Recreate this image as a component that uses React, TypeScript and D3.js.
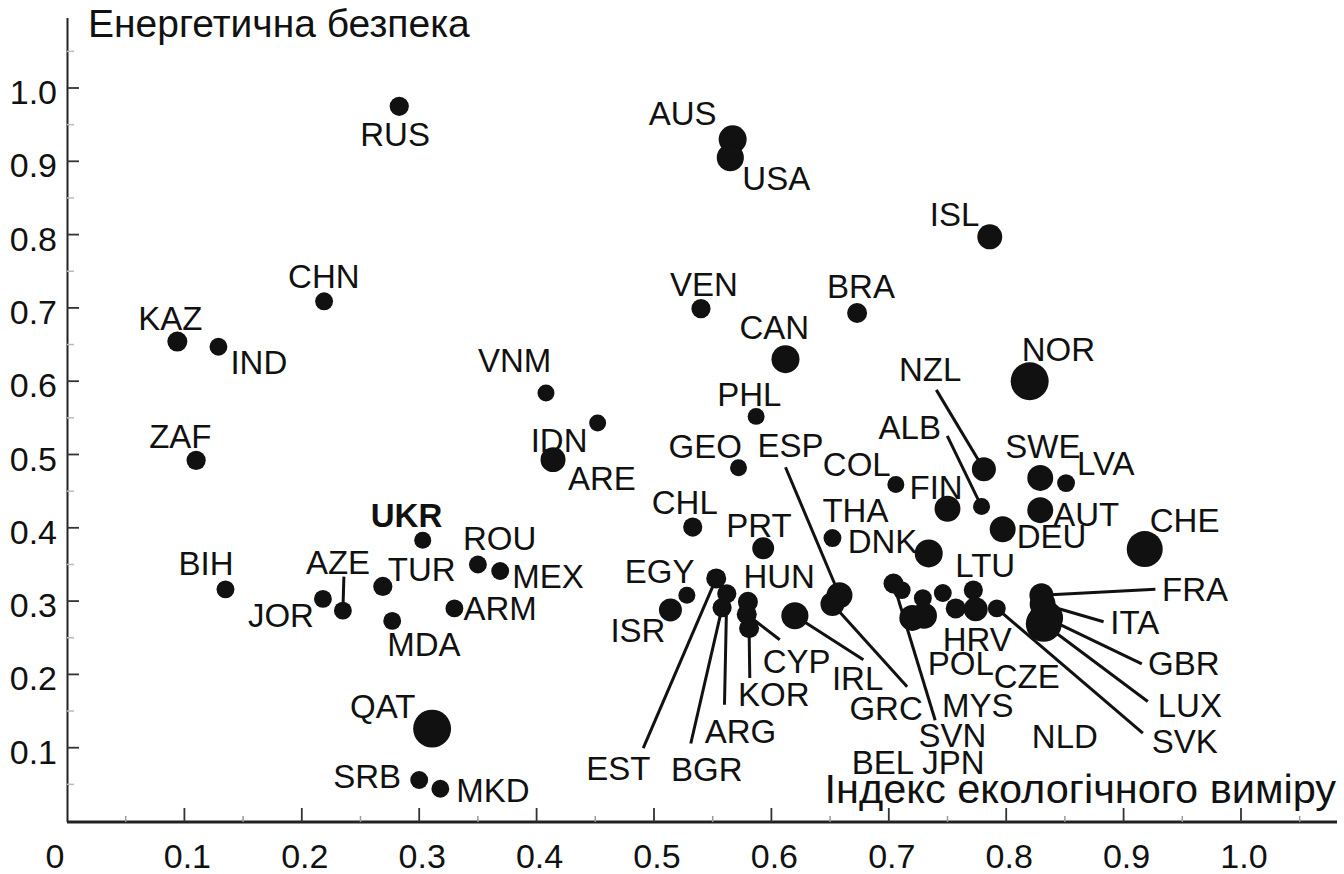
import React from "react";
import * as d3 from "d3";

// ---------- data ----------
const countries = [
  "RUS","AUS","USA","ISL","CHN","VEN","BRA","KAZ","IND","CAN",
  "NOR","VNM","PHL","IDN","ZAF","GEO","COL","NZL","ALB","FIN",
  "SWE","LVA","AUT","DEU","CHE","ARE","CHL","PRT","THA","DNK",
  "UKR","ROU","MEX","BIH","JOR","AZE","TUR","MDA","ARM","EGY",
  "ISR","EST","ARG","BGR","HUN","CYP","KOR","IRL","ESP","GRC",
  "SVN","BEL","JPN","MYS","POL","NLD","HRV","LTU","CZE","SVK",
  "FRA","ITA","GBR","LUX","QAT","SRB","MKD"
];
// Індекс екологічного виміру (x)
const ecoIndex = [
  0.283,0.567,0.565,0.786,0.219,0.540,0.673,0.094,0.129,0.612,
  0.820,0.408,0.587,0.452,0.110,0.572,0.706,0.781,0.779,0.750,
  0.829,0.851,0.829,0.797,0.918,0.414,0.533,0.593,0.652,0.734,
  0.303,0.350,0.369,0.135,0.218,0.235,0.269,0.277,0.330,0.528,
  0.514,0.553,0.562,0.558,0.580,0.579,0.581,0.620,0.658,0.652,
  0.704,0.711,0.720,0.730,0.729,0.746,0.757,0.772,0.774,0.792,
  0.830,0.831,0.834,0.832,0.311,0.300,0.318
];
// Енергетична безпека (y)
const energySecurity = [
  0.975,0.930,0.905,0.797,0.709,0.699,0.693,0.654,0.647,0.630,
  0.600,0.584,0.552,0.543,0.492,0.482,0.459,0.480,0.429,0.426,
  0.468,0.461,0.424,0.398,0.371,0.493,0.401,0.372,0.386,0.365,
  0.383,0.350,0.341,0.316,0.303,0.287,0.320,0.273,0.290,0.308,
  0.288,0.331,0.310,0.291,0.299,0.282,0.263,0.280,0.308,0.296,
  0.324,0.315,0.277,0.280,0.304,0.311,0.290,0.315,0.289,0.290,
  0.308,0.296,0.277,0.269,0.126,0.056,0.044
];
// bubble weight (arbitrary units)
const weight = [
  23,49,46,39,20,23,25,25,20,49,
  90,18,18,18,23,18,18,36,18,42,
  42,20,42,42,81,39,23,30,20,49,
  18,20,20,20,20,20,23,20,20,18,
  33,25,23,23,25,25,25,46,42,36,
  25,20,42,42,20,20,25,23,36,20,
  36,42,72,81,90,20,20
];

const xTicks = [0.1,0.2,0.3,0.4,0.5,0.6,0.7,0.8,0.9,1.0];
const xTickLabels = ["0.1","0.2","0.3","0.4","0.5","0.6","0.7","0.8","0.9","1.0"];
const yTicks = [0.1,0.2,0.3,0.4,0.5,0.6,0.7,0.8,0.9,1.0];
const yTickLabels = ["0.1","0.2","0.3","0.4","0.5","0.6","0.7","0.8","0.9","1.0"];
const minorTicks = [0.05,0.15,0.25,0.35,0.45,0.55,0.65,0.75,0.85,0.95,1.05];

const yTitle = "Енергетична безпека";
const xTitle = "Індекс екологічного виміру";

// ---------- label layout (pixel offsets from the bubble) ----------
type Lay = { dx: number; dy: number; lx?: number; ly?: number; bold?: boolean };
const labelLayout: Record<string, Lay> = {
  RUS: { dx: -39, dy: 40 },
  AUS: { dx: -84, dy: -14 },
  USA: { dx: 12, dy: 32 },
  ISL: { dx: -60, dy: -11 },
  CHN: { dx: -36, dy: -13 },
  VEN: { dx: -31, dy: -13 },
  BRA: { dx: -30, dy: -15 },
  KAZ: { dx: -39, dy: -12 },
  IND: { dx: 12, dy: 27 },
  CAN: { dx: -46, dy: -20 },
  NOR: { dx: -8, dy: -20 },
  VNM: { dx: -68, dy: -21 },
  PHL: { dx: -39, dy: -10 },
  IDN: { dx: -67, dy: 29 },
  ZAF: { dx: -47, dy: -12 },
  GEO: { dx: -70, dy: -10 },
  COL: { dx: -73, dy: -9 },
  NZL: { dx: -85, dy: -88, lx: -47.6, ly: -79.3 },
  ALB: { dx: -103, dy: -68, lx: -34.3, ly: -70.7 },
  FIN: { dx: -38, dy: -10 },
  SWE: { dx: -35, dy: -20 },
  LVA: { dx: 11, dy: -8 },
  AUT: { dx: 13, dy: 16 },
  DEU: { dx: 14, dy: 19 },
  CHE: { dx: 5, dy: -17 },
  ARE: { dx: 15, dy: 30 },
  CHL: { dx: -41, dy: -13 },
  PRT: { dx: -37, dy: -11 },
  THA: { dx: -10, dy: -16 },
  DNK: { dx: -81, dy: 0 },
  UKR: { dx: -52, dy: -13, bold: true },
  ROU: { dx: -15, dy: -14 },
  MEX: { dx: 12, dy: 17 },
  BIH: { dx: -47, dy: -14 },
  JOR: { dx: -75, dy: 28 },
  AZE: { dx: -37, dy: -37, lx: 1, ly: -34 },
  TUR: { dx: 5, dy: -5 },
  MDA: { dx: -5, dy: 35 },
  ARM: { dx: 9, dy: 12 },
  EGY: { dx: -62, dy: -12 },
  ISR: { dx: -60, dy: 32 },
  EST: { dx: -130, dy: 202, lx: -73, ly: 169.7 },
  ARG: { dx: -22, dy: 149, lx: -2.3, ly: 111 },
  BGR: { dx: -51, dy: 173, lx: -31.3, ly: 135.8 },
  HUN: { dx: -4.5, dy: -14 },
  CYP: { dx: 16, dy: 58.5, lx: 33, ly: 25.5 },
  KOR: { dx: -11, dy: 78, lx: 0.7, ly: 49.7 },
  IRL: { dx: 37, dy: 74, lx: 68.5, ly: 44 },
  ESP: { dx: -82, dy: -138, lx: -54, ly: -128 },
  GRC: { dx: 17, dy: 116, lx: 74.7, ly: 82.7 },
  SVN: { dx: 25, dy: 163, lx: 41.7, ly: 136.7 },
  BEL: { dx: -50, dy: 184 },
  JPN: { dx: 10, dy: 156 },
  MYS: { dx: 18, dy: 101 },
  POL: { dx: 5, dy: 77 },
  NLD: { dx: 89, dy: 155 },
  HRV: { dx: -13, dy: 43 },
  LTU: { dx: -18, dy: -13 },
  CZE: { dx: 18, dy: 79 },
  SVK: { dx: 155, dy: 145, lx: 146, ly: 124.7 },
  FRA: { dx: 120.7, dy: 5.7, lx: 114, ly: -6 },
  ITA: { dx: 67.7, dy: 30, lx: 61, ly: 17.7 },
  GBR: { dx: 102, dy: 57, lx: 95.7, ly: 46 },
  LUX: { dx: 114, dy: 92.7, lx: 104, ly: 77.7 },
  QAT: { dx: -82, dy: -11 },
  SRB: { dx: -86, dy: 8 },
  MKD: { dx: 16, dy: 13 },
};

const W = 1344;
const H = 874;
const FONT = "'Liberation Sans', Arial, Helvetica, sans-serif";

export default function App() {
  const x = d3.scaleLinear().domain([0, 1]).range([67, 1241]);
  const y = d3.scaleLinear().domain([0, 1]).range([821, 88]);
  const r = d3.scaleSqrt().domain([0, 100]).range([0, 20]);

  const pts = countries.map((c, i) => ({
    name: c,
    cx: x(ecoIndex[i]),
    cy: y(energySecurity[i]),
    rad: r(weight[i]),
    lay: labelLayout[c] || { dx: 10, dy: -10 },
  }));

  const axisX0 = x(0);
  const axisY0 = y(0) + 1;

  return (
    <div style={{ position: "absolute", left: 0, top: 0, width: W, height: H, background: "#fff" }}>
      <svg width={W} height={H} style={{ display: "block" }} fontFamily={FONT}>
        <rect width={W} height={H} fill="#fff" />

        {/* y axis */}
        <line x1={axisX0 + 0.5} x2={axisX0 + 0.5} y1={18} y2={axisY0} stroke="#222" strokeWidth={2} />
        {minorTicks.map((t) => (
          <line key={"ym" + t} x1={axisX0} x2={axisX0 + 7} y1={y(t)} y2={y(t)} stroke="#bbb" strokeWidth={1.5} />
        ))}
        {yTicks.map((t, i) => (
          <g key={"y" + t}>
            <line x1={axisX0} x2={axisX0 + 12} y1={y(t)} y2={y(t)} stroke="#333" strokeWidth={1.8} />
            <text x={57} y={y(t) + 16} textAnchor="end" fontSize={34} fill="#111">
              {yTickLabels[i]}
            </text>
          </g>
        ))}

        {/* x axis */}
        <line x1={axisX0} x2={1337} y1={axisY0} y2={axisY0} stroke="#222" strokeWidth={3} />
        {minorTicks.map((t) => (
          <line key={"xm" + t} x1={x(t)} x2={x(t)} y1={axisY0} y2={axisY0 - 6} stroke="#999" strokeWidth={1.5} />
        ))}
        {xTicks.map((t, i) => (
          <g key={"x" + t}>
            <line x1={x(t)} x2={x(t)} y1={axisY0} y2={axisY0 - 14} stroke="#333" strokeWidth={1.8} />
            <text x={x(t) + 3} y={868} textAnchor="middle" fontSize={34} fill="#111">
              {xTickLabels[i]}
            </text>
          </g>
        ))}
        <text x={55} y={868} textAnchor="middle" fontSize={34} fill="#111">0</text>

        {/* titles */}
        <text x={88} y={37} fontSize={39} fill="#111">{yTitle}</text>
        <text x={1336} y={803} textAnchor="end" fontSize={41.5} fill="#111">{xTitle}</text>

        {/* leader lines */}
        {pts
          .filter((p) => p.lay.lx !== undefined)
          .map((p) => (
            <line
              key={"l" + p.name}
              x1={p.cx}
              y1={p.cy}
              x2={p.cx + (p.lay.lx as number)}
              y2={p.cy + (p.lay.ly as number)}
              stroke="#111"
              strokeWidth={3}
            />
          ))}

        {/* bubbles */}
        {pts.map((p) => (
          <circle key={"c" + p.name} cx={p.cx} cy={p.cy} r={p.rad} fill="#111" />
        ))}

        {/* labels */}
        {pts.map((p) => (
          <text
            key={"t" + p.name}
            x={p.cx + p.lay.dx}
            y={p.cy + p.lay.dy}
            fontSize={33}
            fontWeight={p.lay.bold ? "bold" : "normal"}
            fill="#111"
          >
            {p.name}
          </text>
        ))}
      </svg>
    </div>
  );
}
